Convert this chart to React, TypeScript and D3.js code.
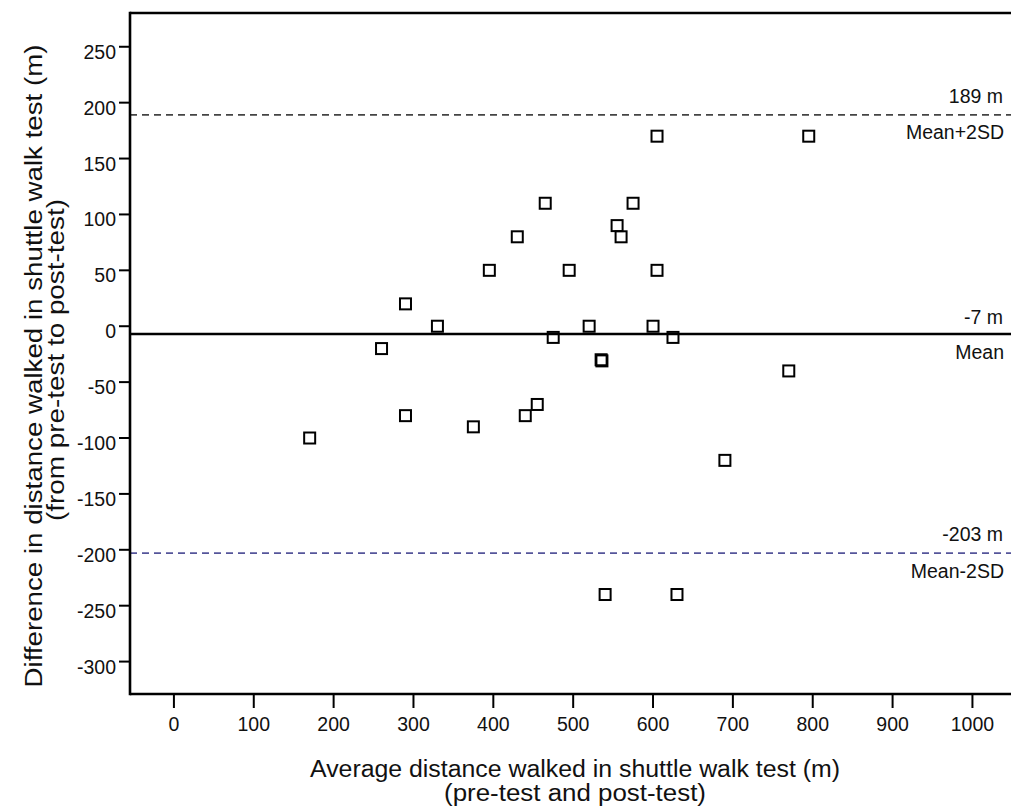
import React from "react";
import * as d3 from "d3";

const avgDistance = [605, 795, 465, 575, 555, 560, 430, 395, 495, 605, 290, 330, 520, 600, 475, 625, 260, 535, 536, 770, 170, 290, 375, 440, 455, 690, 540, 630];
const diffDistance = [170, 170, 110, 110, 90, 80, 80, 50, 50, 50, 20, 0, 0, 0, -10, -10, -20, -30, -31, -40, -100, -80, -90, -80, -70, -120, -240, -240];

const xTicks = [0, 100, 200, 300, 400, 500, 600, 700, 800, 900, 1000];
const yTicks = [250, 200, 150, 100, 50, 0, -50, -100, -150, -200, -250, -300];

const refLines = [
  { value: 189, top: "189 m", bottom: "Mean+2SD", kind: "upper" },
  { value: -7, top: "-7 m", bottom: "Mean", kind: "mean" },
  { value: -203, top: "-203 m", bottom: "Mean-2SD", kind: "lower" },
];

const W = 1011;
const H = 809;
const left = 130;
const right = 1013;
const top = 13;
const bottom = 694;
const FONT = "'Liberation Sans', Arial, sans-serif";

export default function App() {
  const x = d3.scaleLinear().domain([-55, 1050.8]).range([left, right]);
  const y = d3.scaleLinear().domain([-329, 280.2]).range([bottom, top]);

  return (
    <svg width={W} height={H} style={{ position: "absolute", left: 0, top: 0, background: "#fff" }} fontFamily={FONT}>
      <rect x={0} y={0} width={W} height={H} fill="#fff" />
      {refLines.map((r) => {
        const yy = y(r.value);
        const stroke = r.kind === "mean" ? "#000" : r.kind === "upper" ? "#444" : "#55559a";
        return (
          <g key={r.kind}>
            <line
              x1={left}
              x2={W + 5}
              y1={yy}
              y2={yy}
              stroke={stroke}
              strokeWidth={r.kind === "mean" ? 2.6 : 1.8}
              strokeDasharray={r.kind === "mean" ? undefined : "7,5"}
            />
            <text x={1003} y={yy - (r.kind === "mean" ? 10.5 : 12)} textAnchor="end" fontSize={19.5} fill="#111">
              {r.top}
            </text>
            <text x={1004} y={yy + 24.5} textAnchor="end" fontSize={19.5} fill="#111">
              {r.bottom}
            </text>
          </g>
        );
      })}
      {avgDistance.map((v, i) => (
        <rect
          key={i}
          x={x(v) - 5.5}
          y={y(diffDistance[i]) - 5.5}
          width={11}
          height={11}
          fill="none"
          stroke="#000"
          strokeWidth={2}
        />
      ))}
      <line x1={left} x2={W + 5} y1={top} y2={top} stroke="#000" strokeWidth={2.6} />
      <line x1={left} x2={W + 5} y1={bottom} y2={bottom} stroke="#000" strokeWidth={2.6} />
      <line x1={left} x2={left} y1={top - 1.3} y2={bottom + 1.3} stroke="#000" strokeWidth={2.6} />
      {yTicks.map((t) => (
        <g key={t}>
          <line x1={left - 11} x2={left} y1={y(t)} y2={y(t)} stroke="#000" strokeWidth={2} />
          <text x={116} y={y(t) + 12} textAnchor="end" fontSize={19.5} fill="#111">
            {t}
          </text>
        </g>
      ))}
      {xTicks.map((t) => (
        <g key={t}>
          <line x1={x(t)} x2={x(t)} y1={bottom} y2={bottom + 14} stroke="#000" strokeWidth={2} />
          <text x={x(t)} y={730.5} textAnchor="middle" fontSize={19.5} fill="#111">
            {t}
          </text>
        </g>
      ))}
      <text x={575} y={777} textAnchor="middle" fontSize={23} fill="#111" textLength={530} lengthAdjust="spacingAndGlyphs">
        Average distance walked in shuttle walk test (m)
      </text>
      <text x={575} y={801} textAnchor="middle" fontSize={23} fill="#111" textLength={262} lengthAdjust="spacingAndGlyphs">
        (pre-test and post-test)
      </text>
      <text transform="translate(42,366) rotate(-90)" textAnchor="middle" fontSize={23.5} fill="#111" textLength={643} lengthAdjust="spacingAndGlyphs">
        Difference in distance walked in shuttle walk test (m)
      </text>
      <text transform="translate(64,360) rotate(-90)" textAnchor="middle" fontSize={23.5} fill="#111" textLength={322} lengthAdjust="spacingAndGlyphs">
        (from pre-test to post-test)
      </text>
    </svg>
  );
}
